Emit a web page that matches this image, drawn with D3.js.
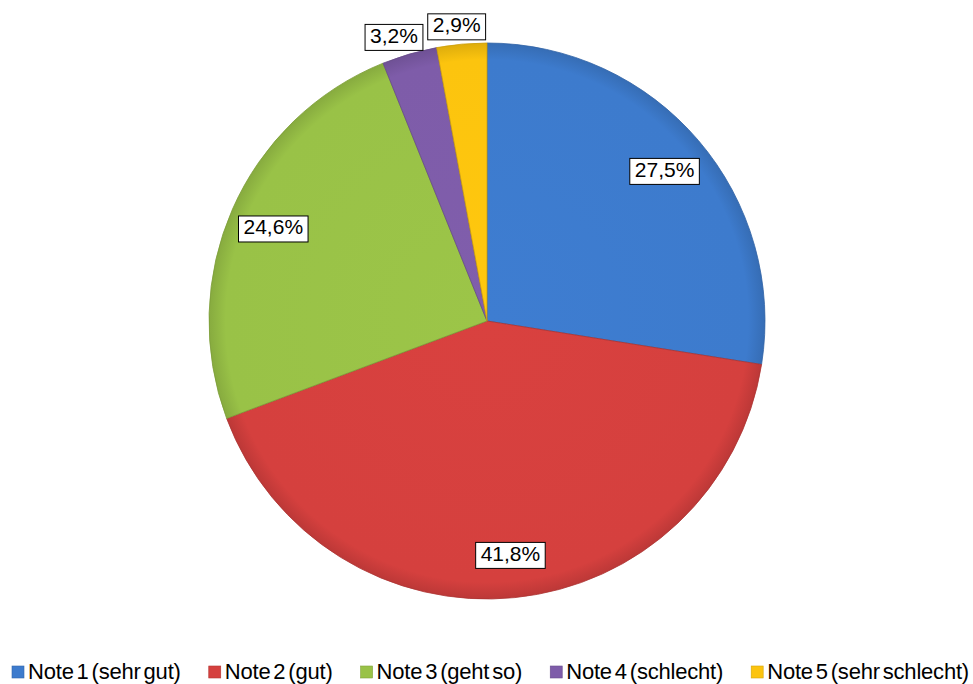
<!DOCTYPE html>
<html>
<head>
<meta charset="utf-8">
<script src="https://cdn.jsdelivr.net/npm/d3@7"></script>
<style>
  html, body { margin: 0; padding: 0; background: #fff; }
  svg { display: block; font-family: "Liberation Sans", Arial, sans-serif; }
</style>
</head>
<body>
<div id="chart"></div>
<script>
const categories = ['Note 1 (sehr gut)', 'Note 2 (gut)', 'Note 3 (geht so)', 'Note 4 (schlecht)', 'Note 5 (sehr schlecht)'];
const values = [27.5, 41.8, 24.6, 3.2, 2.9];
const labels = ['27,5%', '41,8%', '24,6%', '3,2%', '2,9%'];
const colors = ['#3d7bcd', '#d5403e', '#99c247', '#7e5ca9', '#fcc40e'];

const width = 973, height = 684;
const cx = 487, cy = 321, radius = 278;

const svg = d3.select('#chart').append('svg')
    .attr('width', width)
    .attr('height', height);

const defs = svg.append('defs');
colors.forEach((c, i) => {
    let g = defs.append('radialGradient')
        .attr('id', 'grad' + i)
        .attr('gradientUnits', 'userSpaceOnUse')
        .attr('cx', 0).attr('cy', 0).attr('r', radius);
    g.append('stop').attr('offset', '0%').attr('stop-color', d3.color(c).brighter(0.05));
    g.append('stop').attr('offset', '94%').attr('stop-color', c);
    g.append('stop').attr('offset', '100%').attr('stop-color', d3.color(c).darker(0.35));
});

const pie = d3.pie().sort(null).value(d => d);
const arcs = pie(values);
const arc = d3.arc().innerRadius(0).outerRadius(radius);

const g = svg.append('g').attr('transform', `translate(${cx},${cy})`);

g.selectAll('path.slice')
    .data(arcs)
    .enter()
    .append('path')
    .attr('class', 'slice')
    .attr('d', arc)
    .attr('fill', (d, i) => `url(#grad${i})`)
    .attr('stroke', (d, i) => d3.color(colors[i]).darker(0.6))
    .attr('stroke-width', 0.8)
    .attr('stroke-linejoin', 'round');

// data labels: inside for big slices, just outside for small ones
const inArc = d3.arc().innerRadius(radius * 0.84).outerRadius(radius * 0.84);
const outArc = d3.arc().innerRadius(radius * 1.07).outerRadius(radius * 1.07);

const lab = g.selectAll('g.label')
    .data(arcs)
    .enter()
    .append('g')
    .attr('class', 'label');

lab.append('text')
    .attr('text-anchor', 'middle')
    .attr('dy', '0.36em')
    .attr('font-size', 21)
    .attr('fill', '#000')
    .text((d, i) => labels[i]);

lab.each(function(d){
    let sel = d3.select(this);
    let bb = sel.select('text').node().getBBox();
    sel.insert('rect', 'text')
        .attr('x', bb.x - 5)
        .attr('y', bb.y + 0.5)
        .attr('width', bb.width + 10)
        .attr('height', bb.height + 3)
        .attr('fill', '#fff')
        .attr('stroke', '#000')
        .attr('stroke-width', 1);
    let small = d.data < 5;
    let p = (small ? outArc : inArc).centroid(d);
    if(small){
        // push outside labels away from the slice, like a best-fit placement
        let a = (d.startAngle + d.endAngle) / 2;
        p[0] += Math.sin(a) * bb.width * 0.75;
    }
    sel.attr('transform', `translate(${p[0]},${p[1]})`);
});

// legend
const legendY = 679;
const legend = svg.append('g').attr('class', 'legend');
const items = legend.selectAll('g.item')
    .data(categories)
    .enter()
    .append('g')
    .attr('class', 'item');

items.append('rect')
    .attr('x', 0).attr('y', -13)
    .attr('width', 12).attr('height', 12)
    .attr('fill', (d, i) => colors[i])
    .attr('stroke', (d, i) => d3.color(colors[i]).darker(0.5))
    .attr('stroke-width', 0.6);

items.append('text')
    .attr('x', 16)
    .attr('y', 0)
    .attr('font-size', 22)
    .attr('word-spacing', -3)
    .attr('letter-spacing', -0.2)
    .attr('fill', '#000')
    .text(d => d);

let widths = [];
items.each(function(){ widths.push(this.getBBox().width); });
const startX = 12, endX = 969;
const gap = (endX - startX - d3.sum(widths)) / (categories.length - 1);
let x = startX;
items.attr('transform', (d, i) => {
    let t = `translate(${x},${legendY})`;
    x += widths[i] + gap;
    return t;
});
</script>
</body>
</html>
